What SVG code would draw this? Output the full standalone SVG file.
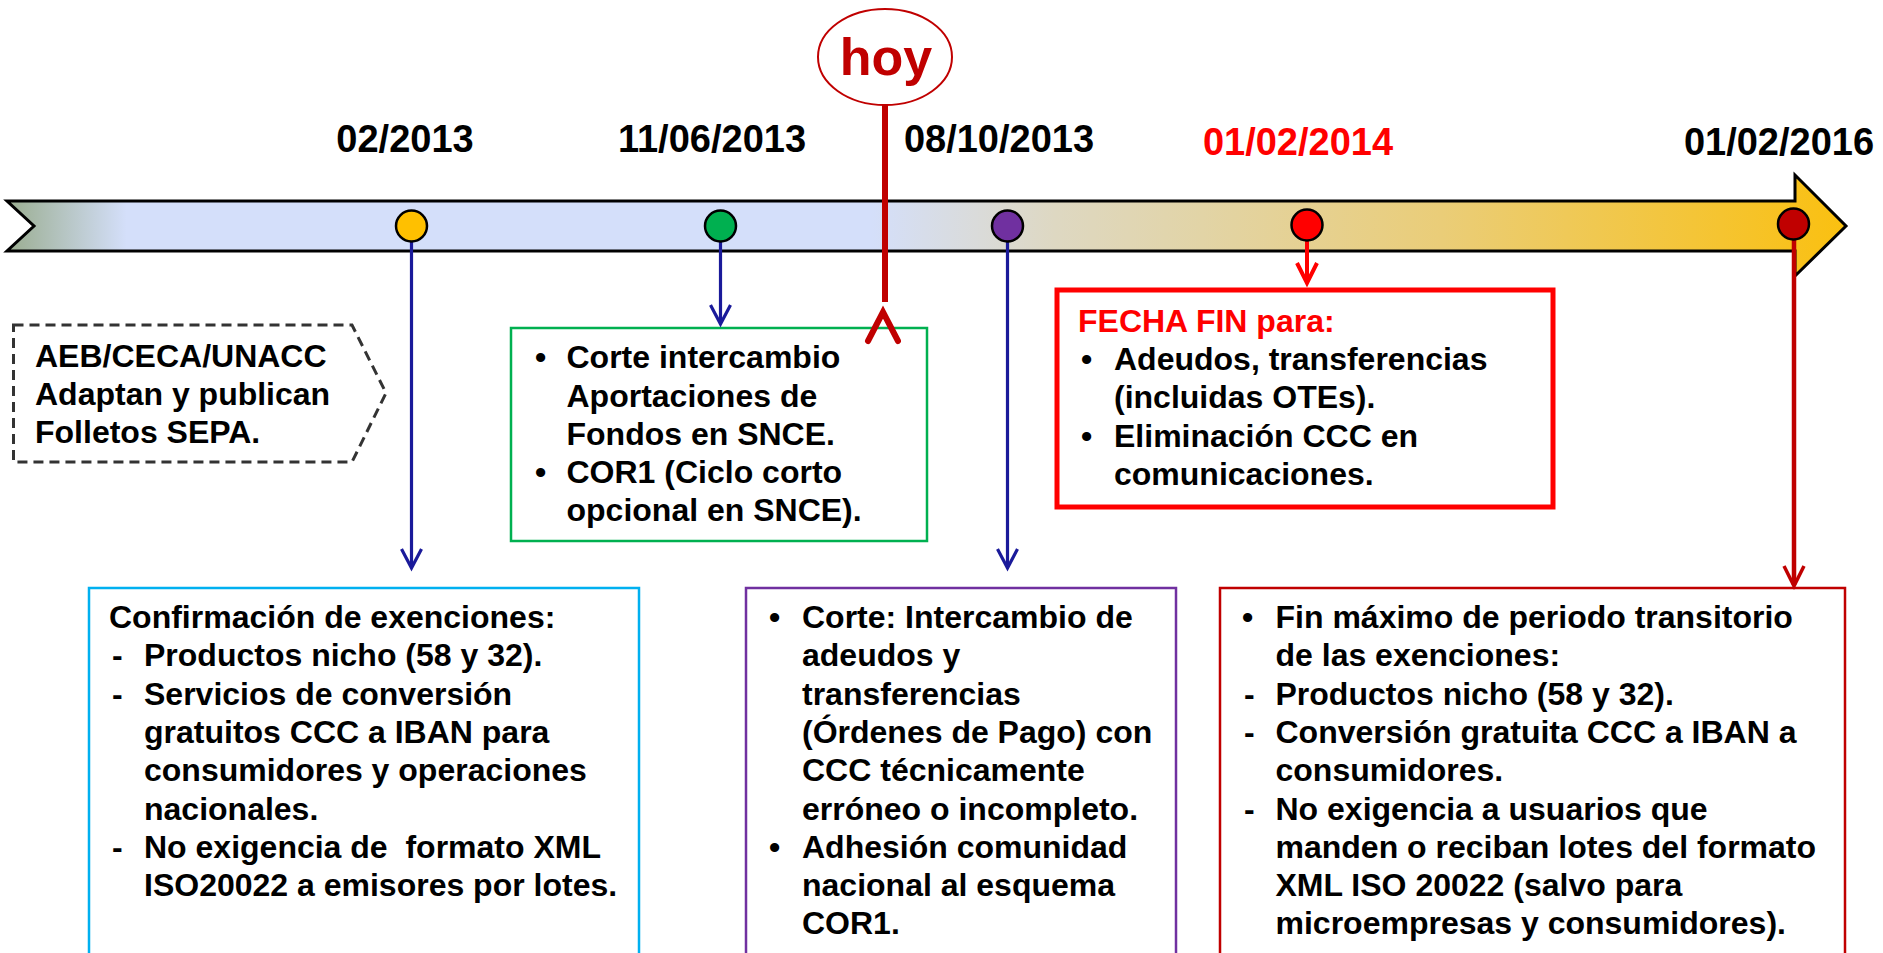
<svg xmlns="http://www.w3.org/2000/svg" width="1883" height="953" viewBox="0 0 1883 953">
<defs>
<linearGradient id="barGrad" gradientUnits="userSpaceOnUse" x1="7" y1="0" x2="1846" y2="0">
<stop offset="0" stop-color="#9AAD90"/>
<stop offset="0.065" stop-color="#D4DFFA"/>
<stop offset="0.47" stop-color="#D4DFFA"/>
<stop offset="0.57" stop-color="#DED8C2"/>
<stop offset="0.65" stop-color="#E2D4A6"/>
<stop offset="0.78" stop-color="#EACD78"/>
<stop offset="1" stop-color="#FAC010"/>
</linearGradient>
<style>
text{font-family:"Liberation Sans",Arial,sans-serif;font-weight:bold;fill:#000;}
.date{font-size:38px;}
.body{font-size:32px;}
.box{fill:#fff;}
.dot{stroke:#000;stroke-width:2.5;}
.blue{stroke:#1A1A9A;stroke-width:3.2;fill:none;}
.pre{white-space:pre;}
</style>
</defs>

<g id="timeline">
<path d="M7,201 L1795,201 L1795,175 L1846,226 L1795,276 L1795,251 L7,251 L34,226 Z" fill="url(#barGrad)" stroke="#000" stroke-width="3" stroke-linejoin="miter"/>
</g>

<g id="dates">
<text class="date" x="405" y="152" text-anchor="middle">02/2013</text>
<text class="date" x="712" y="152" text-anchor="middle">11/06/2013</text>
<text class="date" x="999" y="152" text-anchor="middle">08/10/2013</text>
<text class="date" x="1298" y="155" text-anchor="middle" style="fill:#FF0000">01/02/2014</text>
<text class="date" x="1779" y="155" text-anchor="middle">01/02/2016</text>
</g>

<g id="aeb">
<path d="M13.5,325 L352,325 L386,393 L352,462 L13.5,462 Z" fill="#fff" stroke="#333" stroke-width="3" stroke-dasharray="10,6"/>
<text class="body" x="35" y="367">AEB/CECA/UNACC</text>
<text class="body" x="35" y="405">Adaptan y publican</text>
<text class="body" x="35" y="443">Folletos SEPA.</text>
</g>

<g id="corte-snce">
<rect class="box" x="511" y="328" width="416" height="213" stroke="#00B050" stroke-width="2.5"/>
<text class="body" x="535" y="368">•</text>
<text class="body" x="566.5" y="368">Corte intercambio</text>
<text class="body" x="566.5" y="406.5">Aportaciones de</text>
<text class="body" x="566.5" y="445">Fondos en SNCE.</text>
<text class="body" x="535" y="483">•</text>
<text class="body" x="566.5" y="483">COR1 (Ciclo corto</text>
<text class="body" x="566.5" y="521">opcional en SNCE).</text>
</g>

<g id="fecha-fin">
<rect class="box" x="1057" y="290" width="496" height="217" stroke="#FF0000" stroke-width="5"/>
<text class="body" x="1078" y="332" style="fill:#FF0000">FECHA FIN para:</text>
<text class="body" x="1081" y="370">•</text>
<text class="body" x="1114" y="370">Adeudos, transferencias</text>
<text class="body" x="1114" y="408">(incluidas OTEs).</text>
<text class="body" x="1081" y="447">•</text>
<text class="body" x="1114" y="447">Eliminación CCC en</text>
<text class="body" x="1114" y="485">comunicaciones.</text>
</g>

<g id="confirmacion">
<rect class="box" x="89" y="588" width="550" height="380" stroke="#00B0F0" stroke-width="2.5"/>
<text class="body" x="109" y="628">Confirmación de exenciones:</text>
<text class="body" x="112" y="666.3">-</text>
<text class="body" x="144" y="666.3">Productos nicho (58 y 32).</text>
<text class="body" x="112" y="704.6">-</text>
<text class="body" x="144" y="704.6">Servicios de conversión</text>
<text class="body" x="144" y="742.9">gratuitos CCC a IBAN para</text>
<text class="body" x="144" y="781.2">consumidores y operaciones</text>
<text class="body" x="144" y="819.5">nacionales.</text>
<text class="body" x="112" y="857.8">-</text>
<text class="body pre" x="144" y="857.8">No exigencia de  formato XML</text>
<text class="body" x="144" y="896.1">ISO20022 a emisores por lotes.</text>
</g>

<g id="corte-adeudos">
<rect class="box" x="746" y="588" width="430" height="380" stroke="#7030A0" stroke-width="2.5"/>
<text class="body" x="769" y="628">•</text>
<text class="body" x="802" y="628">Corte: Intercambio de</text>
<text class="body" x="802" y="666.3">adeudos y</text>
<text class="body" x="802" y="704.6">transferencias</text>
<text class="body" x="802" y="742.9">(Órdenes de Pago) con</text>
<text class="body" x="802" y="781.2">CCC técnicamente</text>
<text class="body" x="802" y="819.5">erróneo o incompleto.</text>
<text class="body" x="769" y="857.8">•</text>
<text class="body" x="802" y="857.8">Adhesión comunidad</text>
<text class="body" x="802" y="896.1">nacional al esquema</text>
<text class="body" x="802" y="934.4">COR1.</text>
</g>

<g id="fin-maximo">
<rect class="box" x="1220" y="588" width="625" height="380" stroke="#C00000" stroke-width="2.5"/>
<text class="body" x="1242" y="628">•</text>
<text class="body" x="1275.5" y="628">Fin máximo de periodo transitorio</text>
<text class="body" x="1275.5" y="666.3">de las exenciones:</text>
<text class="body" x="1244" y="704.6">-</text>
<text class="body" x="1275.5" y="704.6">Productos nicho (58 y 32).</text>
<text class="body" x="1244" y="742.9">-</text>
<text class="body" x="1275.5" y="742.9">Conversión gratuita CCC a IBAN a</text>
<text class="body" x="1275.5" y="781.2">consumidores.</text>
<text class="body" x="1244" y="819.5">-</text>
<text class="body" x="1275.5" y="819.5">No exigencia a usuarios que</text>
<text class="body" x="1275.5" y="857.8">manden o reciban lotes del formato</text>
<text class="body" x="1275.5" y="896.1">XML ISO 20022 (salvo para</text>
<text class="body" x="1275.5" y="934.4">microempresas y consumidores).</text>
</g>

<g id="connectors">
<line x1="885" y1="105" x2="885" y2="302" stroke="#C00000" stroke-width="6"/>
<polyline points="868,341 883,312 898,341" fill="none" stroke="#C00000" stroke-width="6" stroke-linecap="round" stroke-linejoin="miter"/>
<line class="blue" x1="411.5" y1="240" x2="411.5" y2="567"/>
<polyline class="blue" points="401.5,549 411.5,568 421.5,549"/>
<line class="blue" x1="720.5" y1="240" x2="720.5" y2="323"/>
<polyline class="blue" points="710.5,305 720.5,324 730.5,305"/>
<line class="blue" x1="1007.5" y1="240" x2="1007.5" y2="567"/>
<polyline class="blue" points="997.5,549 1007.5,568 1017.5,549"/>
<line x1="1307" y1="240" x2="1307" y2="282" stroke="#FF0000" stroke-width="4"/>
<polyline points="1297,263 1307,283 1317,263" fill="none" stroke="#FF0000" stroke-width="4"/>
<line x1="1794" y1="240" x2="1794" y2="585" stroke="#C00000" stroke-width="4.5"/>
<polyline points="1784,566 1794,586 1804,566" fill="none" stroke="#C00000" stroke-width="3.5"/>
</g>

<g id="markers">
<circle class="dot" cx="411.5" cy="226" r="15.5" fill="#FFC000"/>
<circle class="dot" cx="720.5" cy="226" r="15.5" fill="#00B050"/>
<circle class="dot" cx="1007.5" cy="226" r="15.5" fill="#7030A0"/>
<circle class="dot" cx="1307" cy="225" r="15.5" fill="#FF0000"/>
<circle class="dot" cx="1793.5" cy="224" r="15.5" fill="#C00000"/>
</g>

<g id="hoy">
<ellipse cx="885" cy="57" rx="67" ry="48" fill="#fff" stroke="#C00000" stroke-width="2"/>
<text x="886" y="75" text-anchor="middle" style="font-size:52px;fill:#C00000">hoy</text>
</g>
</svg>
